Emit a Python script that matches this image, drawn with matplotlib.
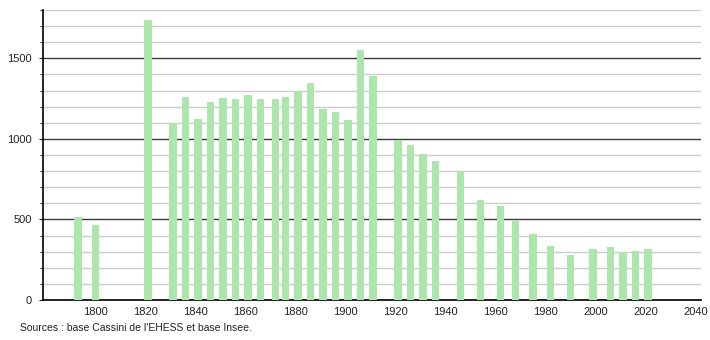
import matplotlib.pyplot as plt
from matplotlib.ticker import MultipleLocator

# census years and population
years = [1793, 1800, 1821, 1831, 1836, 1841, 1846, 1851, 1856, 1861, 1866,
         1872, 1876, 1881, 1886, 1891, 1896, 1901, 1906, 1911, 1921, 1926,
         1931, 1936, 1946, 1954, 1962, 1968, 1975, 1982, 1990, 1999, 2006,
         2011, 2016, 2021]
population = [516, 467, 1736, 1099, 1263, 1126, 1232, 1255, 1245, 1274, 1245,
              1245, 1263, 1296, 1346, 1188, 1170, 1120, 1549, 1390, 996, 963,
              907, 864, 794, 622, 583, 492, 411, 336, 280, 317, 330,
              297, 303, 315]
x_ticks = list(range(1800, 2041, 20))
source_text = "Sources : base Cassini de l'EHESS et base Insee."

plt.rcParams['font.family'] = ['Liberation Sans', 'DejaVu Sans']

fig = plt.figure(figsize=(7.1, 3.4), dpi=100)
ax = fig.add_axes([43 / 710, 1 - 300 / 340, 658 / 710, 290 / 340])

ax.bar(years, population, width=3.1, color='#ace6ac', zorder=3)

ax.set_xlim(1779, 2042.2)
ax.set_ylim(0, 1800)

ax.yaxis.set_major_locator(MultipleLocator(500))
ax.yaxis.set_minor_locator(MultipleLocator(100))
ax.grid(which='minor', axis='y', color='#cccccc', linewidth=1, zorder=1)
ax.grid(which='major', axis='y', color='#3a3a3a', linewidth=1, zorder=2)
ax.set_xticks(x_ticks)

for s in ['top', 'right']:
    ax.spines[s].set_visible(False)
ax.spines['left'].set_linewidth(1.2)
ax.spines['bottom'].set_linewidth(1.2)

ax.tick_params(axis='x', length=0, labelsize=8, pad=5, colors='#222222')
ax.tick_params(axis='y', which='major', length=3, labelsize=8, pad=5, colors='#222222')
ax.tick_params(axis='y', which='minor', length=2.5)

fig.text(20 / 710, 1 - 328 / 340, source_text, fontsize=7.5, color='#222222',
         va='center', ha='left')

fig.savefig('out.png', dpi=100)
